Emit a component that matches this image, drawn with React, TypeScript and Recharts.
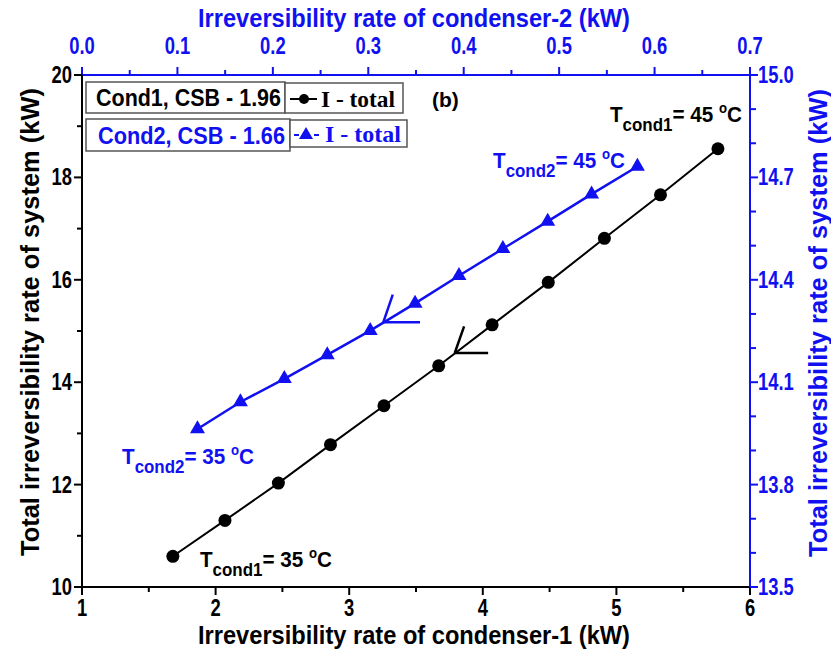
import React from 'react';
import {
  ScatterChart,
  Scatter,
  XAxis,
  YAxis,
  ReferenceLine,
} from 'recharts';

// Condenser-1: irreversibility of condenser-1 (kW) vs total system irreversibility (kW)
const cond1X = [1.68, 2.07, 2.47, 2.86, 3.26, 3.67, 4.07, 4.49, 4.91, 5.33, 5.76];
const cond1Y = [10.6, 11.3, 12.03, 12.78, 13.54, 14.32, 15.12, 15.95, 16.81, 17.66, 18.56];

// Condenser-2: irreversibility of condenser-2 (kW) vs total system irreversibility (kW)
const cond2X = [0.121, 0.166, 0.212, 0.257, 0.302, 0.349, 0.395, 0.441, 0.488, 0.534, 0.582];
const cond2Y = [13.963, 14.042, 14.11, 14.18, 14.251, 14.331, 14.412, 14.491, 14.571, 14.651, 14.732];

// Axis ticks (major + minor)
const bottomTicks = [1, 1.5, 2, 2.5, 3, 3.5, 4, 4.5, 5, 5.5, 6];
const topTicks = [0, 0.05, 0.1, 0.15, 0.2, 0.25, 0.3, 0.35, 0.4, 0.45, 0.5, 0.55, 0.6, 0.65, 0.7];
const leftTicks = [10, 11, 12, 13, 14, 15, 16, 17, 18, 19, 20];
const rightTicks = [13.5, 13.6, 13.7, 13.8, 13.9, 14.0, 14.1, 14.2, 14.3, 14.4, 14.5, 14.6, 14.7, 14.8, 14.9, 15.0];

// Direction arrows (data coordinates on condenser-1 / left axes)
const arrow1 = { tip: [3.79, 14.57], up: [3.86, 15.09], side: [4.04, 14.57] };
const arrow2 = { tip: [3.255, 15.17], up: [3.326, 15.71], side: [3.53, 15.17] };

const cond1Data = cond1X.map((x, i) => ({ x, y: cond1Y[i] }));
const cond2Data = cond2X.map((x, i) => ({ x, y: cond2Y[i] }));

const BLUE = '#1010f0';
const SANS = '"Liberation Sans", Arial, sans-serif';
const SERIF = '"Liberation Serif", "Times New Roman", serif';

const isMult = (v: number, step: number, base = 0) => {
  const k = (v - base) / step;
  return Math.abs(k - Math.round(k)) < 1e-6;
};

const narrow = (x: number, s = 0.8) => `translate(${x} 0) scale(${s} 1) translate(${-x} 0)`;

const BottomTick = (props: any) => {
  const { x, y, payload } = props;
  const v = payload.value;
  const major = isMult(v, 1);
  return (
    <g>
      <line x1={x} y1={y} x2={x} y2={y + (major ? 8 : 5)} stroke="#000" strokeWidth={2} />
      {major && (
        <text x={x} y={y + 29} textAnchor="middle" fontFamily={SANS} fontWeight="bold" fontSize={23} fill="#000"
          transform={narrow(x)}>
          {v}
        </text>
      )}
    </g>
  );
};

const TopTick = (props: any) => {
  const { x, y, payload } = props;
  const v = payload.value;
  const major = isMult(v, 0.1);
  return (
    <g>
      <line x1={x} y1={y} x2={x} y2={y - (major ? 8 : 5)} stroke={BLUE} strokeWidth={2} />
      {major && (
        <text x={x} y={y - 21} textAnchor="middle" fontFamily={SANS} fontWeight="bold" fontSize={23} fill={BLUE}
          transform={narrow(x)}>
          {v.toFixed(1)}
        </text>
      )}
    </g>
  );
};

const LeftTick = (props: any) => {
  const { x, y, payload } = props;
  const v = payload.value;
  const major = isMult(v, 2);
  return (
    <g>
      <line x1={x} y1={y} x2={x - (major ? 8 : 5)} y2={y} stroke="#000" strokeWidth={2} />
      {major && (
        <text x={x - 10} y={y + 8} textAnchor="end" fontFamily={SANS} fontWeight="bold" fontSize={23} fill="#000"
          transform={narrow(x - 10)}>
          {v}
        </text>
      )}
    </g>
  );
};

const RightTick = (props: any) => {
  const { x, y, payload } = props;
  const v = payload.value;
  const major = isMult(v, 0.3, 13.5);
  return (
    <g>
      <line x1={x} y1={y} x2={x + (major ? 8 : 6)} y2={y} stroke={BLUE} strokeWidth={2} />
      {major && (
        <text x={x + 8} y={y + 8} textAnchor="start" fontFamily={SANS} fontWeight="bold" fontSize={23} fill={BLUE}
          transform={narrow(x + 8)}>
          {v.toFixed(1)}
        </text>
      )}
    </g>
  );
};

const Dot = (props: any) => {
  const { cx, cy } = props;
  return <circle cx={cx} cy={cy} r={6.5} fill="#000" />;
};

const Tri = (props: any) => {
  const { cx, cy } = props;
  const h = 13;
  const w = 15;
  return (
    <polygon
      points={`${cx},${cy - (2 * h) / 3} ${cx - w / 2},${cy + h / 3} ${cx + w / 2},${cy + h / 3}`}
      fill={BLUE}
    />
  );
};

// Temperature annotation: T_cond = xx °C
const TLabel = ({ x, y, sub, temp, color }: { x: number; y: number; sub: string; temp: string; color: string }) => (
  <g transform={narrow(x, 0.94)}>
    <text x={x} y={y} fontFamily={SANS} fontWeight="bold" fontSize={22} fill={color}>
      T
      <tspan dy={9} fontSize={18}>{sub}</tspan>
      <tspan dy={-9}>= {temp} </tspan>
      <tspan dy={-9} fontSize={14}>o</tspan>
      <tspan dy={9}>C</tspan>
    </text>
  </g>
);

const Overlay = () => (
  <svg width={831} height={653} style={{ position: 'absolute', left: 0, top: 0, pointerEvents: 'none' }}>
    {/* axis titles */}
    <text x={414} y={27} textAnchor="middle" fontFamily={SANS} fontWeight="bold" fontSize={26} fill={BLUE}
      textLength={432} lengthAdjust="spacingAndGlyphs">
      Irreversibility rate of condenser-2 (kW)
    </text>
    <text x={414} y={644} textAnchor="middle" fontFamily={SANS} fontWeight="bold" fontSize={26} fill="#000"
      textLength={432} lengthAdjust="spacingAndGlyphs">
      Irreversibility rate of condenser-1 (kW)
    </text>
    <text x={0} y={0} textAnchor="middle" fontFamily={SANS} fontWeight="bold" fontSize={25} fill="#000"
      transform="translate(39 322) rotate(-90)" textLength={468} lengthAdjust="spacingAndGlyphs">
      Total irreversibility rate of system (kW)
    </text>
    <text x={0} y={0} textAnchor="middle" fontFamily={SANS} fontWeight="bold" fontSize={25} fill={BLUE}
      transform="translate(827 323) rotate(-90)" textLength={468} lengthAdjust="spacingAndGlyphs">
      Total irreversibility rate of system (kW)
    </text>

    {/* legend */}
    <rect x={86} y={82} width={199} height={31} fill="#fff" stroke="#555" strokeWidth={1.5} />
    <text x={96} y={106} fontFamily={SANS} fontWeight="bold" fontSize={23} fill="#000" textLength={185} lengthAdjust="spacingAndGlyphs">
      Cond1, CSB - 1.96
    </text>
    <rect x={285} y={83} width={118} height={30} fill="#fff" stroke="#555" strokeWidth={1.5} />
    <line x1={290} y1={99} x2={317} y2={99} stroke="#000" strokeWidth={2} />
    <circle cx={304} cy={99} r={5} fill="#000" />
    <text x={321} y={107} fontFamily={SERIF} fontWeight="bold" fontSize={24} fill="#000" textLength={74} lengthAdjust="spacingAndGlyphs">
      I - total
    </text>

    <rect x={86} y={119} width={204} height={32} fill="#fff" stroke="#555" strokeWidth={1.5} />
    <text x={98} y={144} fontFamily={SANS} fontWeight="bold" fontSize={23} fill={BLUE} textLength={187} lengthAdjust="spacingAndGlyphs">
      Cond2, CSB - 1.66
    </text>
    <rect x={290} y={120} width={117} height={27} fill="#fff" stroke="#555" strokeWidth={1.5} />
    <line x1={294} y1={135} x2={299} y2={135} stroke={BLUE} strokeWidth={2} />
    <polygon points="306,127 299,139 313,139" fill={BLUE} />
    <line x1={314} y1={135} x2={319} y2={135} stroke={BLUE} strokeWidth={2} />
    <text x={325} y={142} fontFamily={SERIF} fontWeight="bold" fontSize={24} fill={BLUE} textLength={76} lengthAdjust="spacingAndGlyphs">
      I - total
    </text>

    <text x={432} y={107} fontFamily={SANS} fontWeight="bold" fontSize={21} fill="#000">(b)</text>

    <TLabel x={610} y={122} sub="cond1" temp="45" color="#000" />
    <TLabel x={493} y={168} sub="cond2" temp="45" color={BLUE} />
    <TLabel x={122} y={464} sub="cond2" temp="35" color={BLUE} />
    <TLabel x={200} y={567} sub="cond1" temp="35" color="#000" />
  </svg>
);

export default function App() {
  return (
    <div style={{ position: 'absolute', left: 0, top: 0, width: 831, height: 653, background: '#fff' }}>
      <ScatterChart width={831} height={653} margin={{ top: 35, right: 21, bottom: 26, left: 22 }}>
        <XAxis
          xAxisId="b"
          type="number"
          dataKey="x"
          orientation="bottom"
          domain={[1, 6]}
          ticks={bottomTicks}
          interval={0}
          height={40}
          tickSize={0}
          tickMargin={0}
          tick={<BottomTick />}
          axisLine={{ stroke: '#000', strokeWidth: 2 }}
          allowDataOverflow
        />
        <XAxis
          xAxisId="t"
          type="number"
          dataKey="x"
          orientation="top"
          domain={[0, 0.7]}
          ticks={topTicks}
          interval={0}
          height={40}
          tickSize={0}
          tickMargin={0}
          tick={<TopTick />}
          axisLine={{ stroke: BLUE, strokeWidth: 2 }}
          allowDataOverflow
        />
        <YAxis
          yAxisId="l"
          type="number"
          dataKey="y"
          orientation="left"
          domain={[10, 20]}
          ticks={leftTicks}
          interval={0}
          width={60}
          tickSize={0}
          tickMargin={0}
          tick={<LeftTick />}
          axisLine={{ stroke: '#000', strokeWidth: 2 }}
          allowDataOverflow
        />
        <YAxis
          yAxisId="r"
          type="number"
          dataKey="y"
          orientation="right"
          domain={[13.5, 15]}
          ticks={rightTicks}
          interval={0}
          width={60}
          tickSize={0}
          tickMargin={0}
          tick={<RightTick />}
          axisLine={{ stroke: BLUE, strokeWidth: 2 }}
          allowDataOverflow
        />
        <ReferenceLine xAxisId="b" yAxisId="l" segment={[{ x: arrow1.tip[0], y: arrow1.tip[1] }, { x: arrow1.up[0], y: arrow1.up[1] }]} stroke="#000" strokeWidth={2.5} />
        <ReferenceLine xAxisId="b" yAxisId="l" segment={[{ x: arrow1.tip[0], y: arrow1.tip[1] }, { x: arrow1.side[0], y: arrow1.side[1] }]} stroke="#000" strokeWidth={2.5} />
        <ReferenceLine xAxisId="b" yAxisId="l" segment={[{ x: arrow2.tip[0], y: arrow2.tip[1] }, { x: arrow2.up[0], y: arrow2.up[1] }]} stroke={BLUE} strokeWidth={2.5} />
        <ReferenceLine xAxisId="b" yAxisId="l" segment={[{ x: arrow2.tip[0], y: arrow2.tip[1] }, { x: arrow2.side[0], y: arrow2.side[1] }]} stroke={BLUE} strokeWidth={2.5} />
        <Scatter
          name="Cond1"
          xAxisId="b"
          yAxisId="l"
          data={cond1Data}
          line={{ stroke: '#000', strokeWidth: 2 }}
          lineType="joint"
          shape={<Dot />}
          isAnimationActive={false}
        />
        <Scatter
          name="Cond2"
          xAxisId="t"
          yAxisId="r"
          data={cond2Data}
          line={{ stroke: BLUE, strokeWidth: 2.5 }}
          lineType="joint"
          shape={<Tri />}
          isAnimationActive={false}
        />
      </ScatterChart>
      <Overlay />
    </div>
  );
}
